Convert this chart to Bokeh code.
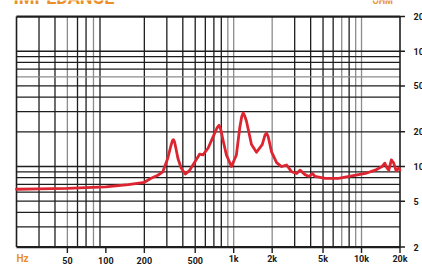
from bokeh.plotting import figure
from bokeh.models import Range1d
from bokeh.core.properties import value
from bokeh.embed import file_html
from bokeh.resources import INLINE
import math

# impedance curve (Hz, ohm)
freq = [20, 30, 50, 70, 100, 150, 200, 226, 255, 279, 305, 322, 332, 338, 345, 355, 366, 388, 418,
        450, 480, 541, 575, 630, 702, 740, 768, 792, 820, 877, 960, 1050, 1115, 1155, 1186, 1220,
        1259, 1378, 1508, 1672, 1760, 1808, 1860, 1978, 2166, 2371, 2595, 2842, 3110, 3301, 3613,
        3882, 4130, 4330, 5190, 6610, 8410, 10700, 12800, 14470, 15200, 15840, 16350, 17120, 17870,
        18640, 19570, 20000]
ohm = [6.35, 6.4, 6.45, 6.55, 6.65, 6.95, 7.3, 7.9, 8.4, 9.0, 11.8, 15.0, 16.8, 17.1, 16.3, 14.0,
       11.8, 9.7, 8.6, 9.2, 10.3, 12.8, 12.6, 14.4, 18.9, 21.6, 22.8, 21.0, 17.5, 12.6, 10.0, 12.6,
       21.6, 27.0, 29.2, 27.5, 24.7, 15.5, 13.3, 15.5, 18.8, 19.5, 18.2, 13.4, 10.8, 10.0, 10.3,
       9.0, 8.7, 9.3, 8.5, 8.2, 8.7, 8.2, 7.9, 7.9, 8.3, 8.7, 9.3, 10.0, 10.7, 9.7, 9.3, 11.4, 10.7,
       9.2, 9.7, 9.3]

x_ticks = [50, 100, 200, 500, 1000, 2000, 5000, 10000, 20000]
x_labels = ["50", "100", "200", "500", "1k", "2k", "5k", "10k", "20k"]
y_ticks = [200, 100, 50, 20, 10, 5, 2]
y_labels = ["200", "100", "50", "20", "10", "5", "2"]

x_grid = [30, 40, 60, 70, 90, 200, 300, 400, 500, 600, 700, 800, 3000, 4000, 5000, 6000, 8000]
x_grid_light = [50, 80, 900, 1000, 2000, 7000, 9000, 10000]
y_grid = [3, 4, 5, 6, 7, 8, 9, 10, 20, 30, 40, 50, 70, 80, 90, 100]
y_grid_light = [60]

title_text = "IMPEDANCE"
unit_text = "OHM"
x_unit_text = "Hz"

f_min, f_max = 20, 20000
z_min, z_max = 2, 200

p = figure(width=422, height=264, x_axis_type="log", y_axis_type="log",
           x_range=Range1d(14.99, 29994), y_range=Range1d(1.412, 275.7),
           x_axis_location=None, y_axis_location=None,
           toolbar_location=None, output_backend="svg", min_border=0)
p.grid.visible = False
p.outline_line_color = None
p.background_fill_color = "white"
p.border_fill_color = "white"

dark = "#1e1e1e"
light = "#8c8c8c"
orange = "#ea8f2a"

# vertical grid
p.segment(x0=x_grid, y0=[z_min]*len(x_grid), x1=x_grid, y1=[z_max]*len(x_grid),
          line_color=dark, line_width=1.3)
p.segment(x0=x_grid_light, y0=[z_min]*len(x_grid_light), x1=x_grid_light, y1=[z_max]*len(x_grid_light),
          line_color=light, line_width=1.3)
# horizontal grid
p.segment(x0=[f_min]*len(y_grid), y0=y_grid, x1=[f_max]*len(y_grid), y1=y_grid,
          line_color=dark, line_width=1.3)
p.segment(x0=[f_min]*len(y_grid_light), y0=y_grid_light, x1=[f_max]*len(y_grid_light), y1=y_grid_light,
          line_color=light, line_width=1.3)
# frame
p.segment(x0=[f_min, f_max], y0=[z_min, z_min], x1=[f_min, f_max], y1=[z_max, z_max],
          line_color=dark, line_width=1.6)
p.segment(x0=[f_min, f_min], y0=[z_min, z_max], x1=[f_max, f_max], y1=[z_min, z_max],
          line_color=dark, line_width=2.2)

# ticks
p.ray(x=[f_max]*len(y_ticks), y=y_ticks, length=5, length_units="screen", angle=0,
      line_color=dark, line_width=1.4)
p.ray(x=x_ticks, y=[z_min]*len(x_ticks), length=6, length_units="screen", angle=-math.pi/2,
      line_color=dark, line_width=1.4)

# curve
p.line(freq, ohm, line_color="#dc2531", line_width=2.8, line_join="round", line_cap="round")

font = value("Roboto")
p.text(x=x_ticks, y=[z_min]*len(x_ticks), text=x_labels, y_offset=16.8,
       text_align="center", text_baseline="bottom", text_font=font,
       text_font_size="9px", text_font_style="bold", text_color="#1a1a1a")
p.text(x=[f_max]*len(y_ticks), y=y_ticks, text=y_labels, x_offset=13.5,
       text_align="left", text_baseline="middle", text_font=font,
       text_font_size="9px", text_font_style="bold", text_color="#1a1a1a")
p.text(x=[f_min], y=[z_min], text=[x_unit_text], y_offset=16.8, x_offset=0,
       text_align="left", text_baseline="bottom", text_font=font,
       text_font_size="10px", text_font_style="bold", text_color=orange)
# title and unit at the top edge
p.text(x=[f_min], y=[z_max], text=[title_text], y_offset=-19.5, x_offset=-3,
       text_align="left", text_baseline="alphabetic", text_font=font,
       text_font_size="18px", text_font_style="bold", text_color=orange)
p.text(x=[f_max], y=[z_max], text=[unit_text], y_offset=-15.5, x_offset=-7,
       text_align="right", text_baseline="alphabetic", text_font=font,
       text_font_size="9px", text_font_style="bold", text_color=orange)

open("out.html", "w").write(file_html(p, INLINE))
